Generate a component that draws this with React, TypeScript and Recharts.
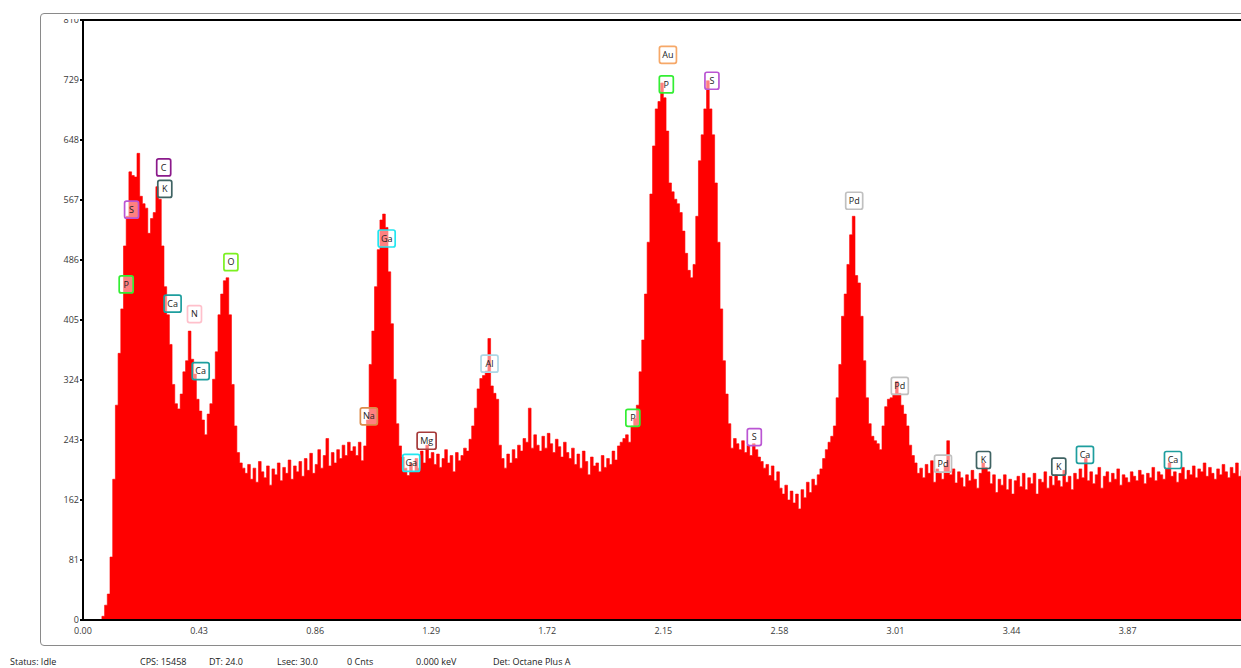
import { ComposedChart, Area, Scatter, XAxis, YAxis, ReferenceLine } from 'recharts';

// EDS spectrum, one value per 10 eV channel starting at 0.00 keV
const CHANNEL_KEV = 0.01;
const counts = [
  0, 0, 0, 0, 0, 0, 0, 5, 20, 35,
  85, 190, 290, 360, 420, 505, 545, 605, 600, 598,
  630, 572, 562, 556, 522, 542, 550, 585, 568, 505,
  450, 412, 372, 318, 292, 285, 305, 335, 350, 390,
  352, 332, 298, 282, 270, 250, 278, 292, 325, 362,
  412, 440, 458, 462, 412, 318, 262, 226, 212, 205,
  198, 210, 190, 205, 186, 214, 200, 192, 208, 182,
  204, 196, 212, 188, 206, 198, 216, 190, 208, 200,
  214, 194, 218, 202, 225, 198, 210, 230, 205, 222,
  245, 208, 226, 212, 230, 218, 236, 222, 240, 228,
  234, 222, 240, 215, 235, 270, 345, 390, 450, 500,
  540, 548, 530, 470, 400, 325, 265, 235, 220, 205,
  195, 212, 200, 218, 205, 228, 212, 236, 218, 226,
  210, 224, 206, 218, 230, 212, 222, 200, 226, 215,
  222, 232, 228, 244, 262, 286, 312, 326, 330, 336,
  380, 316, 306, 298, 236, 218, 205, 224, 212, 230,
  218, 236, 228, 245, 240, 286, 232, 250, 236, 228,
  248, 232, 252, 238, 226, 244, 234, 220, 240, 226,
  218, 232, 210, 224, 205, 228, 214, 196, 220, 208,
  212, 200, 222, 206, 218, 210, 228, 216, 235, 240,
  245, 250, 240, 262, 272, 290, 335, 378, 440, 510,
  575, 640, 690, 700, 725, 705, 660, 590, 578, 568,
  562, 550, 525, 495, 472, 462, 480, 545, 620, 655,
  690, 728, 690, 655, 590, 510, 420, 350, 305, 265,
  232, 245, 238, 230, 242, 226, 236, 222, 238, 230,
  220, 214, 205, 210, 195, 208, 188, 200, 178, 170,
  182, 162, 174, 158, 170, 150, 176, 165, 186, 172,
  190, 182, 196, 204, 218, 230, 240, 248, 262, 300,
  345, 410, 440, 480, 520, 545, 465, 455, 410, 350,
  300, 265, 248, 242, 238, 230, 262, 288, 298, 300,
  305, 322, 306, 290, 278, 262, 236, 222, 212, 198,
  205, 192, 210, 198, 215, 186, 204, 198, 190, 208,
  242, 196, 204, 185, 200, 192, 180, 196, 188, 202,
  190, 178, 198, 212, 206, 200, 184, 196, 172, 190,
  182, 196, 176, 190, 170, 188, 194, 180, 198, 176,
  192, 184, 198, 170, 190, 186, 200, 178, 194, 182,
  196, 188, 180, 202, 186, 194, 176, 198, 190, 204,
  192, 218, 188, 200, 184, 196, 206, 178, 194, 200,
  186, 198, 190, 204, 182, 196, 192, 186, 200, 194,
  188, 202, 196, 184, 198, 192, 206, 188, 200, 196,
  190, 204, 212, 194, 200, 186, 198, 206, 190, 202,
  196, 208, 192, 204, 200, 212, 194, 206, 198, 190,
  204, 196, 210, 200, 192, 206, 198, 212, 194, 202,
  200,
];

// element markers (energy keV, counts where the box sits)
const peakNames = ['P', 'S', 'C', 'K', 'Ca', 'N', 'Ca', 'O', 'Na', 'Ga', 'Ga', 'Mg', 'Al', 'P', 'P', 'Au', 'S', 'S', 'Pd', 'Pd', 'Pd', 'K', 'K', 'Ca', 'Ca'];
const peakEnergies = [0.16, 0.18, 0.299, 0.303, 0.332, 0.413, 0.436, 0.548, 1.059, 1.125, 1.216, 1.273, 1.506, 2.037, 2.161, 2.167, 2.33, 2.487, 2.857, 3.026, 3.186, 3.336, 3.615, 3.712, 4.038];
const peakCounts = [453, 554, 611, 582, 427, 413, 336, 483, 275, 515, 212, 242, 346, 273, 723, 763, 728, 247, 566, 316, 211, 216, 207, 223, 216];

const yTicks = [0, 81, 162, 243, 324, 405, 486, 567, 648, 729, 810];
const xTicks = [0, 0.43, 0.86, 1.29, 1.72, 2.15, 2.58, 3.01, 3.44, 3.87];

const statusItems = ['Status: Idle', 'CPS: 15458', 'DT: 24.0', 'Lsec: 30.0', '0 Cnts', '0.000 keV', 'Det: Octane Plus A'];
const statusLeft = [10, 140, 209, 277, 347, 416, 493];

const ELEMENT_COLOR: Record<string, string> = {
  C: '#8B1A8B',
  K: '#3F6363',
  S: '#BA55D3',
  P: '#33EE33',
  Ca: '#1E9E9E',
  N: '#FFC0CB',
  O: '#7CF020',
  Ga: '#22E6F0',
  Na: '#DC8C4C',
  Mg: '#A63A3A',
  Al: '#ADD8E6',
  Au: '#F6A868',
  Pd: '#C0C0C0',
};

const FONT = '"Open Sans", sans-serif';

const spectrum = counts.map((c, i) => ({ e: +(i * CHANNEL_KEV).toFixed(2), c }));
const peaks = peakNames.map((el, i) => ({ e: peakEnergies[i], c: peakCounts[i], el }));

function PeakBox(props: any) {
  const { cx, cy, payload } = props;
  if (cx == null || cy == null) return null;
  const el: string = payload.el;
  const w = el === 'Mg' ? 19 : el.length > 1 ? 17 : 14;
  const h = 17;
  return (
    <g>
      <rect
        x={cx - w / 2}
        y={cy - h / 2}
        width={w}
        height={h}
        rx={2}
        fill="rgba(255,255,255,0.5)"
        stroke={ELEMENT_COLOR[el]}
        strokeWidth={1.7}
      />
      <text x={cx} y={cy} dy="0.35em" textAnchor="middle" fontSize={9} fontFamily={FONT} fill="#222">
        {el}
      </text>
    </g>
  );
}

export default function App() {
  const tick = { fill: '#3a3a3a', fontSize: 9, fontFamily: FONT };
  return (
    <div style={{ position: 'absolute', left: 0, top: 0, width: 1241, height: 668, overflow: 'hidden', background: '#fff' }}>
      <div
        style={{
          position: 'absolute',
          left: 40,
          top: 13,
          width: 1260,
          height: 633,
          border: '1.5px solid #8a8a8a',
          borderRadius: 4,
          boxSizing: 'border-box',
        }}
      />
      <div style={{ position: 'absolute', left: 0, top: 0 }}>
        <ComposedChart width={1241} height={668} data={spectrum} margin={{ top: 20, right: 0, bottom: 0, left: 0 }}>
          <XAxis
            dataKey="e"
            type="number"
            domain={[0, 4.29]}
            ticks={xTicks}
            allowDataOverflow
            tickFormatter={(v: number) => v.toFixed(2)}
            tick={tick}
            tickLine={false}
            tickSize={4}
            tickMargin={4}
            height={48}
            stroke="#000"
            strokeWidth={2}
            interval={0}
          />
          <YAxis
            type="number"
            domain={[0, 810]}
            ticks={yTicks}
            tick={tick}
            tickSize={3}
            tickMargin={1}
            width={83}
            stroke="#000"
            strokeWidth={2}
            interval={0}
            allowDataOverflow
          />
          <ReferenceLine y={810} stroke="#000" strokeWidth={2} />
          <Area
            type="stepAfter"
            dataKey="c"
            fill="#FF0000"
            fillOpacity={1}
            stroke="#FF0000"
            strokeWidth={0.6}
            isAnimationActive={false}
            dot={false}
            activeDot={false}
          />
          <Scatter data={peaks} dataKey="c" shape={PeakBox} isAnimationActive={false} />
        </ComposedChart>
      </div>
      <div style={{ position: 'absolute', left: 50, top: 14.5, width: 31, height: 4, background: '#fff' }} />
      {statusItems.map((s, i) => (
        <div
          key={s}
          style={{
            position: 'absolute',
            left: statusLeft[i],
            top: 655,
            fontFamily: FONT,
            fontSize: 9,
            color: '#222',
            whiteSpace: 'nowrap',
          }}
        >
          {s}
        </div>
      ))}
    </div>
  );
}
